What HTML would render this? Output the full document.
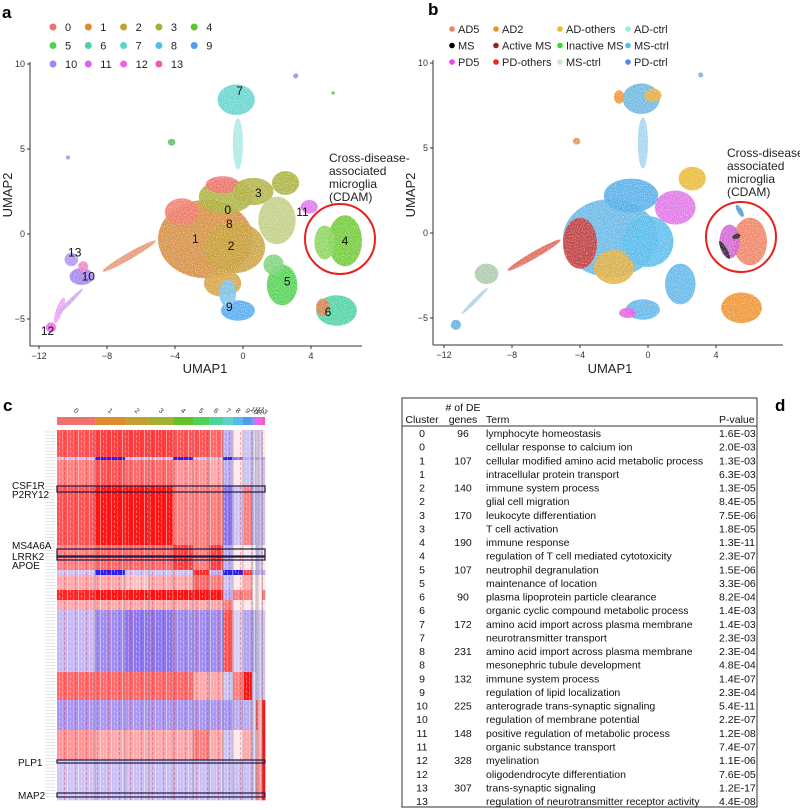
<!DOCTYPE html>
<html><head><meta charset="utf-8">
<style>
html,body{margin:0;padding:0;background:#fff;}
svg{display:block;font-family:"Liberation Sans",Arial,sans-serif;}
</style></head>
<body>
<svg id="fig" width="800" height="810" viewBox="0 0 800 810" xmlns="http://www.w3.org/2000/svg">
<defs>
<filter id="speck" x="-20%" y="-20%" width="140%" height="140%">
<feTurbulence type="fractalNoise" baseFrequency="0.9" numOctaves="1" seed="3" result="n"/>
<feColorMatrix in="n" type="matrix" values="0 0 0 0 1  0 0 0 0 1  0 0 0 0 1  0 0 0 -1.4 1.6" result="m"/>
<feComposite in="SourceGraphic" in2="m" operator="in"/>
</filter>
<pattern id="streak" width="11" height="5" patternUnits="userSpaceOnUse">
<rect x="1" y="0" width="1" height="5" fill="#fff" opacity="0.45"/>
<rect x="4" y="0" width="1" height="3" fill="#fff" opacity="0.35"/>
<rect x="7" y="1" width="1" height="4" fill="#fff" opacity="0.3"/>
<rect x="9" y="2" width="1" height="3" fill="#f00" opacity="0.3"/>
</pattern>
</defs>
<g id="panelA"></g>
<g id="panelB"></g>
<g id="panelC"></g>
<g id="panelD"></g>
</svg>
<script>
const NS="http://www.w3.org/2000/svg";
// ---------- data ----------
const xTicks=[-12,-8,-4,0,4];
const yTicks=[10,5,0,-5];
const clusterNames=["0","1","2","3","4","5","6","7","8","9","10","11","12","13"];
const clusterColors=["#f07070","#de8a2e","#c4a032","#a4b030","#62c228","#4ed256","#4cd49c","#5ed2c8","#56bcf0","#4c9cf0","#a088f2","#e060f0","#f060e8","#f05aa8"];
// blobs panel a (data coords)
const aBlobX=[-2.2,-0.5,-1,-3.6,-1.2,0.6,-1.2,2.5,2.0,3.9,6.0,4.8,2.3,1.8,5.5,4.7,-0.3,-0.9,-0.4,-0.3,-9.5,-10.1,-9.4,-11.3,-10.8,-4.2,3.1,5.3,-10.3,-6.7,-10.2];
const aBlobY=[-0.3,-0.8,2.2,1.3,2.9,2.5,-2.9,3.0,0.8,1.6,-0.4,-0.5,-3.0,-1.8,-4.5,-4.3,-4.5,-3.5,7.9,5.3,-2.5,-1.5,-1.9,-5.5,-4.5,5.4,9.3,8.3,4.5,-1.3,-4.0];
const aBlobRx=[2.8,1.8,1.6,1.0,1.0,1.2,1.1,0.8,1.1,0.5,1.0,0.6,0.9,0.6,1.2,0.4,1.0,0.5,1.1,0.3,0.7,0.4,0.3,0.3,0.2,0.22,0.15,0.1,0.12,1.8,1.1];
const aBlobRy=[2.3,1.5,1.0,0.8,0.5,0.8,0.8,0.7,1.4,0.4,1.5,1.0,1.2,0.6,0.9,0.5,0.6,0.8,0.9,1.5,0.5,0.4,0.3,0.3,0.8,0.2,0.15,0.1,0.12,0.2,0.12];
const aBlobAng=[0,0,0,0,0,0,0,0,0,0,0,0,0,0,0,0,0,0,0,0,0,0,0,0,20,0,0,0,0,-30,-45];
const aBlobCol=["#d48a3a","#c9a03a","#a9b03a","#f07a6a","#f27070","#b0b040","#d4a040","#a8b038","#c0cc80","#e070f0","#6cc830","#88d458","#4cd04c","#78d478","#48d0a0","#e08050","#4ea8f0","#78c4f0","#60d4cc","#a8e8e4","#a080f0","#b090f0","#f080c0","#f060f0","#f0a0f0","#50c060","#a080f0","#50c050","#a080f0","#e89070","#c8a8f0"];
// blobs panel b
const bBlobX=[-2.2,-4,-2,0,-1,1.6,2.6,6.0,4.8,1.9,5.5,-0.3,-1.2,-0.4,0.3,-1.7,-0.3,-9.5,-11.3,-6.7,-4.2,4.5,5.2,5.4,-10.2,3.1];
const bBlobY=[-0.3,-0.6,-2.0,-0.5,2.2,1.5,3.2,-0.5,-0.5,-3.0,-4.4,-4.5,-4.7,7.9,8.1,8.0,5.3,-2.4,-5.4,-1.3,5.4,-1.0,-0.2,1.3,-4.0,9.3];
const bBlobRx=[2.8,1.0,1.2,1.5,1.6,1.2,0.8,1.0,0.6,0.9,1.2,1.0,0.5,1.1,0.5,0.3,0.3,0.7,0.3,1.8,0.22,0.15,0.25,0.15,1.1,0.15];
const bBlobRy=[2.3,1.5,1.0,1.5,1.0,1.0,0.7,1.4,1.0,1.2,0.9,0.6,0.3,0.9,0.4,0.4,1.5,0.6,0.3,0.2,0.2,0.6,0.15,0.4,0.12,0.15];
const bBlobAng=[0,0,0,0,0,0,0,0,0,0,0,0,0,0,0,0,0,0,0,-30,0,-30,-20,-30,-45,0];
const bBlobCol=["#62b6e6","#c83838","#e2b040","#58bcec","#50ace8","#e070e8","#e8b830","#f07e5e","#d060d0","#5cb4e8","#f09028","#5cb4e8","#e060e0","#68b4e0","#e8b040","#f09030","#a0d4f0","#a8c8a8","#5cacde","#e06050","#e89040","#222222","#222222","#4a90d0","#a8d0e8","#70b0e0"];
const aLegendRows=[["0","1","2","3","4"],["5","6","7","8","9"],["10","11","12","13"]];
const bLegendNames=[["AD5","AD2","AD-others","AD-ctrl"],["MS","Active MS","Inactive MS","MS-ctrl"],["PD5","PD-others","MS-ctrl","PD-ctrl"]];
const bLegendCols=[["#f08060","#f09028","#e8b830","#90f0d0"],["#000000","#a02020","#30e020","#60b8e8"],["#f040f0","#f02020","#c0f0c0","#4a8cf0"]];
const aLabelText=["7","3","0","8","1","2","11","4","5","6","9","13","10","12"];
const aLabelX=[-0.2,0.9,-0.9,-0.8,-2.8,-0.7,3.5,6.0,2.6,5.0,-0.8,-9.9,-9.1,-11.5];
const aLabelY=[8.4,2.4,1.4,0.6,-0.3,-0.7,1.3,-0.4,-2.8,-4.6,-4.3,-1.1,-2.5,-5.7];
// heatmap
const clusterBounds=[0,0.183,0.327,0.442,0.558,0.654,0.731,0.798,0.846,0.894,0.938,0.957,0.966,0.986,1.0];
const bandStart=[0,27,30,56,115,140,145,160,170,180,242,270,300,330,370];
const bandVals=[
[0.7,0.8,0.8,0.8,0.7,0.7,0.6,-0.5,0,-0.3,-0.3,0,-0.3,0],
[-0.3,-1.5,-0.3,-0.3,-1.5,-0.3,-0.3,-1.5,-1,-0.5,-0.5,-0.5,-0.5,-0.5],
[0.5,0.7,0.6,0.6,0.4,0.4,0.3,-0.5,0,-0.3,-0.3,0,-0.3,-0.3],
[0.7,1,1,1,0.5,0.5,0.5,-1,-0.3,0.5,-0.5,-0.3,-0.5,-0.3],
[0.5,0.6,0.6,0.6,0.8,0.5,0.8,-0.5,0,0,0,-0.3,-0.3,0],
[-0.3,-1.5,-0.3,-0.3,-0.3,0.9,-0.5,-1.5,-1.5,0.8,-0.5,-0.5,-0.5,-0.5],
[0.3,0.3,0.2,0.3,0.3,0.6,0.5,-0.3,0,0.3,0,0,0,0],
[0.9,1,1,1,1,1,1,-0.5,0.5,0.5,0,0,0,0.5],
[0.3,0.3,0.3,0.3,0.3,0.3,0.3,0.5,0,0,0,0,0,0],
[-0.4,-0.8,-1,-1,-0.8,-0.8,-0.8,0.7,-0.2,-0.6,-0.6,-0.3,-0.3,-0.3],
[0.6,0.6,0.6,0.6,0.6,0.3,0.3,-0.3,0.5,1,-0.3,-0.3,-0.3,-0.3],
[-0.7,-0.7,-0.7,-0.7,-0.7,-0.7,-0.7,-0.7,-0.5,-0.5,-0.3,0.8,0.3,1],
[0.4,0.3,0.3,0.3,0.3,0.5,0.3,-0.3,0,0.3,-0.3,0.3,0.3,1],
[-0.3,-0.35,-0.35,-0.35,-0.35,-0.35,-0.35,-0.35,-0.35,-0.35,-0.35,0.5,0.4,1]];
const geneNames=["CSF1R","P2RY12","MS4A6A","LRRK2","APOE","PLP1","MAP2"];
const geneLabelRow=[55,64,115,126,135,332,365];
const geneBoxRow=[56,119,127,330,363];
const geneBoxH=[6,7,3,3,4];
// table
const tCluster=["0","0","1","1","2","2","3","3","4","4","5","5","6","6","7","7","8","8","9","9","10","10","11","11","12","12","13","13"];
const tGenes=["96","","107","","140","","170","","190","","107","","90","","172","","231","","132","","225","","148","","328","","307",""];
const tTerm=["lymphocyte homeostasis","cellular response to calcium ion","cellular modified amino acid metabolic process","intracellular protein transport","immune system process","glial cell migration","leukocyte differentiation","T cell activation","immune response","regulation of T cell mediated cytotoxicity","neutrophil degranulation","maintenance of location","plasma lipoprotein particle clearance","organic cyclic compound metabolic process","amino acid import across plasma membrane","neurotransmitter transport","amino acid import across plasma membrane","mesonephric tubule development","immune system process","regulation of lipid localization","anterograde trans-synaptic signaling","regulation of membrane potential","positive regulation of metabolic process","organic substance transport","myelination","oligodendrocyte differentiation","trans-synaptic signaling","regulation of neurotransmitter receptor activity"];
const tP=["1.6E-03","2.0E-03","1.3E-03","6.3E-03","1.3E-05","8.4E-05","7.5E-06","1.8E-05","1.3E-11","2.3E-07","1.5E-06","3.3E-06","8.2E-04","1.4E-03","1.4E-03","2.3E-03","2.3E-04","4.8E-04","1.4E-07","2.3E-04","5.4E-11","2.2E-07","1.2E-08","7.4E-07","1.1E-06","7.6E-05","1.2E-17","4.4E-08"];

// ---------- helpers ----------
function mk(tag,attrs,parent,txt){const e=document.createElementNS(NS,tag);for(const k in attrs)e.setAttribute(k,attrs[k]);if(txt!==undefined)e.textContent=txt;parent.appendChild(e);return e;}

function umapPanel(g,o){
  const sx=v=>o.x0+(v)*17, sy=v=>o.y0-(v)*17;
  const ax=mk('line',{x1:o.axL,y1:o.axT,x2:o.axL,y2:o.axB,stroke:'#333','stroke-width':1},g);
  
  const bx=mk('line',{x1:o.axL,y1:o.axB,x2:o.axR,y2:o.axB,stroke:'#333','stroke-width':1},g);
  
  xTicks.forEach(t=>{
    const l=mk('line',{x1:sx(t),y1:o.axB,x2:sx(t),y2:o.axB+3,stroke:'#333'},g);
    
    const tx=mk('text',{x:sx(t),y:o.axB+13,'font-size':9,'text-anchor':'middle',fill:'#333'},g,t<0?'\u2212'+(-t):String(t));
    
  });
  yTicks.forEach(t=>{
    const l=mk('line',{x1:o.axL-3,y1:sy(t),x2:o.axL,y2:sy(t),stroke:'#333'},g);
    
    const tx=mk('text',{x:o.axL-5,y:sy(t)+3,'font-size':9,'text-anchor':'end',fill:'#333'},g,t<0?'\u2212'+(-t):String(t));
    
  });
  const xt=mk('text',{x:o.x0-38,y:373,'font-size':13,'text-anchor':'middle',fill:'#222'},g,'UMAP1');
  
  const yt=mk('text',{x:o.axL-18,y:195,'font-size':13,'text-anchor':'middle',fill:'#222',transform:`rotate(-90 ${o.axL-18} 195)`},g,'UMAP2');
  
  const bg=mk('g',{filter:'url(#speck)'},g);
  
  for(let i=0;i<o.bx.length;i++){
    const cx=sx(o.bx[i]),cy=sy(o.by[i]);
    const e=mk('ellipse',{cx:cx,cy:cy,rx:o.brx[i]*17,ry:o.bry[i]*17,fill:o.bc[i],opacity:0.92,transform:`rotate(${o.ba[i]} ${cx} ${cy})`},bg);
    
  }
  ['Cross-disease-','associated','microglia','(CDAM)'].forEach((s,i)=>{
    const t=mk('text',{x:o.annX,y:o.annY+i*13,'font-size':12,fill:'#222'},g,s);
    
  });
  const c=mk('circle',{cx:o.cirX,cy:o.cirY,r:35,fill:'none',stroke:'#e8201c','stroke-width':2},g);
  
  return {sx,sy};
}

// ---------- panel a ----------
const gA=document.getElementById('panelA');
let lab=mk('text',{x:2,y:18,'font-size':17,'font-weight':'bold'},gA,'a');

const scA=umapPanel(gA,{x0:243,y0:234,axL:30,axR:362,axT:62,axB:346,bx:aBlobX,by:aBlobY,brx:aBlobRx,bry:aBlobRy,ba:aBlobAng,bc:aBlobCol,annX:329,annY:162,cirX:340,cirY:239});
aLabelText.forEach((s,i)=>{
  const t=mk('text',{x:scA.sx(aLabelX[i]),y:scA.sy(aLabelY[i])+4,'font-size':12,'text-anchor':'middle',fill:'#111'},gA,s);
  
});
aLegendRows.forEach((row,r)=>row.forEach((n,c)=>{
  const d=mk('circle',{cx:53+c*35.3,cy:27+r*18.5,r:3.5,fill:clusterColors[+n]},gA);
  
  const t=mk('text',{x:65+c*35.3,y:31+r*18.5,'font-size':11,fill:'#222'},gA,n);
  
}));

// ---------- panel b ----------
const gB=document.getElementById('panelB');
lab=mk('text',{x:428,y:15,'font-size':17,'font-weight':'bold'},gB,'b');

umapPanel(gB,{x0:648,y0:233,axL:433,axR:783,axT:60,axB:345,bx:bBlobX,by:bBlobY,brx:bBlobRx,bry:bBlobRy,ba:bBlobAng,bc:bBlobCol,annX:727,annY:157,cirX:741,cirY:237});
const bColX=[452,496,560,628];
bLegendNames.forEach((row,r)=>row.forEach((n,c)=>{
  const d=mk('circle',{cx:bColX[c],cy:29+r*16.5,r:2.8,fill:bLegendCols[r][c]},gB);
  
  const t=mk('text',{x:bColX[c]+6,y:33+r*16.5,'font-size':11,fill:'#222'},gB,n);
  
}));

// ---------- panel c ----------
const gC=document.getElementById('panelC');
lab=mk('text',{x:3,y:411,'font-size':17,'font-weight':'bold'},gC,'c');

const hmL=57,hmR=265,hmT=430,hmB=800;
const hx=f=>hmL+f*(hmR-hmL), hy=r=>hmT+r;
function valColor(v){
  if(v>=0){const t=Math.min(v,1);return `rgb(255,${Math.round(232-212*t)},${Math.round(236-216*t)})`;}
  if(v>=-1){const t=-v;return `rgb(${Math.round(236-96*t)},${Math.round(228-110*t)},${Math.round(246-6*t)})`;}
  const t=Math.min(-v-1,0.5)/0.5;return `rgb(${Math.round(140-100*t)},${Math.round(118-88*t)},240)`;
}
clusterNames.forEach((n,i)=>{
  const r=mk('rect',{x:hx(clusterBounds[i]),y:417,width:hx(clusterBounds[i+1])-hx(clusterBounds[i]),height:8,fill:clusterColors[i]},gC);
  
  const cx=(hx(clusterBounds[i])+hx(clusterBounds[i+1]))/2;
  const t=mk('text',{x:cx,y:413,'font-size':7,'text-anchor':'middle',fill:'#333',transform:`rotate(40 ${cx} 411)`},gC,n);
  
});
bandVals.forEach((row,b)=>{
  const y0=hy(bandStart[b]),y1=hy(bandStart[b+1]);
  row.forEach((v,i)=>{
    const r=mk('rect',{x:hx(clusterBounds[i]),y:y0,width:hx(clusterBounds[i+1])-hx(clusterBounds[i])+0.3,height:y1-y0+0.3,fill:valColor(v)},gC);
    
  });
});
let ov=mk('rect',{x:hmL,y:hmT,width:hmR-hmL,height:hmB-hmT,fill:'url(#streak)'},gC);

clusterBounds.slice(1,-1).forEach(f=>{
  const l=mk('line',{x1:hx(f),y1:hmT,x2:hx(f),y2:hmB,stroke:'#888','stroke-width':0.6},gC);
  
});
for(let y=hmT+2;y<hmB;y+=3.2){
  const l=mk('line',{x1:45,y1:y,x2:55,y2:y,stroke:'#d4d4d4','stroke-width':0.7},gC);
  
}
geneBoxRow.forEach((r,i)=>{
  const b=mk('rect',{x:hmL,y:hy(r),width:hmR-hmL,height:geneBoxH[i],fill:'none',stroke:'#1a1a40','stroke-width':1.2},gC);
  
});
geneNames.forEach((n,i)=>{
  const t=mk('text',{x:i>=5?18:12,y:hy(geneLabelRow[i])+4,'font-size':10,fill:'#111'},gC,n);
  
});

// ---------- panel d ----------
const gD=document.getElementById('panelD');
lab=mk('text',{x:775,y:411,'font-size':17,'font-weight':'bold'},gD,'d');

let fr=mk('rect',{x:402,y:398,width:355,height:409,fill:'none',stroke:'#333','stroke-width':1},gD);

let hl=mk('line',{x1:402,y1:426,x2:757,y2:426,stroke:'#333','stroke-width':1},gD);

[["# of DE",463,411,'middle'],["Cluster",422,423,'middle'],["genes",463,423,'middle'],["Term",486,423,'start'],["P-value",719,423,'start']].forEach(h=>{
  const t=mk('text',{x:h[1],y:h[2],'font-size':10.5,'text-anchor':h[3],fill:'#111'},gD,h[0]);
  
});
tTerm.forEach((term,i)=>{
  const y=437+i*13.63;
  let t=mk('text',{x:422,y:y,'font-size':10.5,'text-anchor':'middle',fill:'#111'},gD,tCluster[i]);
  
  t=mk('text',{x:463,y:y,'font-size':10.5,'text-anchor':'middle',fill:'#111'},gD,tGenes[i]);
  
  t=mk('text',{x:486,y:y,'font-size':10.5,fill:'#111'},gD,term);
  
  t=mk('text',{x:719,y:y,'font-size':10.5,fill:'#111'},gD,tP[i]);
  
});
</script>
</body></html>
